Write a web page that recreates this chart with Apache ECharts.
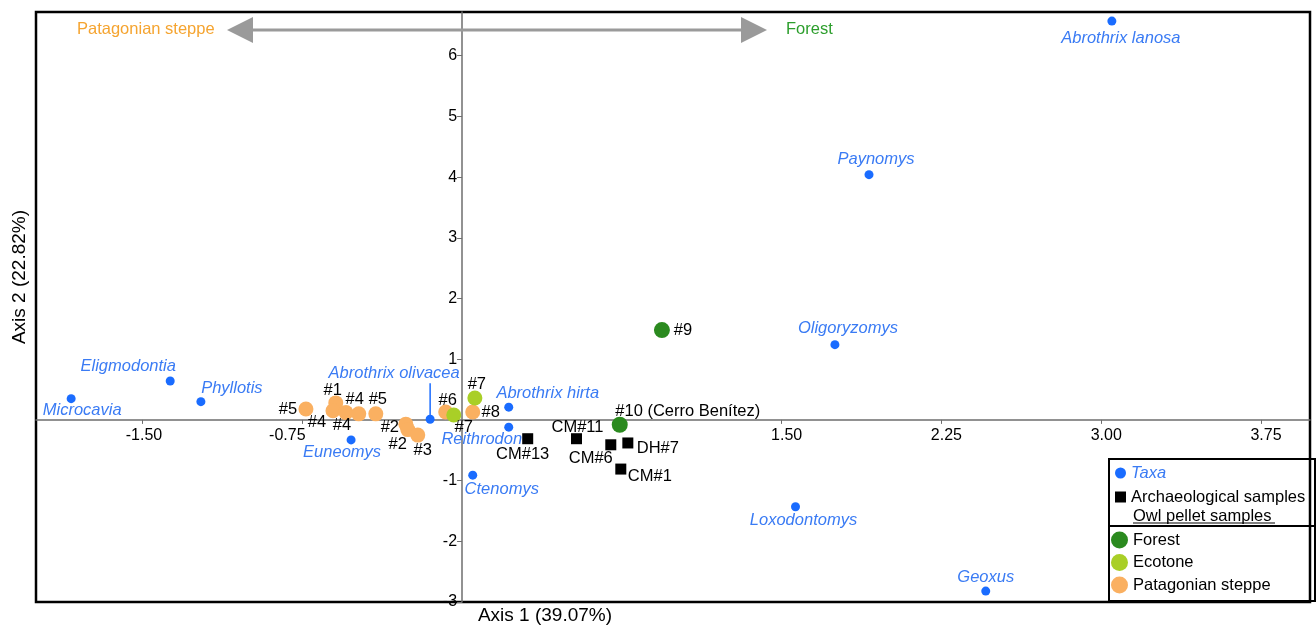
<!DOCTYPE html>
<html>
<head>
<meta charset="utf-8">
<script src="https://cdn.jsdelivr.net/npm/echarts@6/dist/echarts.min.js"></script>
<style>
  html, body { margin: 0; padding: 0; background: #fff; }
  #chart { width: 1316px; height: 629px; }
</style>
</head>
<body>
<div id="chart"></div>
<script>
// Correspondence analysis of small-mammal assemblages: taxa, archaeological
// samples and owl pellet samples on the first two axes.

// [name, axis 1, axis 2]
const taxa = [
  ['Abrothrix lanosa', 3.05, 6.57],
  ['Paynomys', 1.91, 4.04],
  ['Oligoryzomys', 1.75, 1.24],
  ['Eligmodontia', -1.37, 0.64],
  ['Microcavia', -1.835, 0.35],
  ['Phyllotis', -1.226, 0.30],
  ['Abrothrix olivacea', -0.150, 0.01],
  ['Euneomys', -0.521, -0.33],
  ['Abrothrix hirta', 0.219, 0.21],
  ['Reithrodon', 0.219, -0.12],
  ['Ctenomys', 0.050, -0.91],
  ['Loxodontomys', 1.565, -1.43],
  ['Geoxus', 2.458, -2.82]
];
const archaeological = [
  ['CM#13', 0.308, -0.31],
  ['CM#11', 0.537, -0.31],
  ['CM#6', 0.698, -0.41],
  ['DH#7', 0.778, -0.38],
  ['CM#1', 0.745, -0.81]
];
const forest = [
  ['#9', 0.938, 1.48],
  ['#10 (Cerro Benítez)', 0.740, -0.08]
];
const ecotone = [
  ['#7', 0.060, 0.36],
  ['#7', -0.039, 0.08]
];
const steppe = [
  ['#5', -0.733, 0.18],
  ['#1', -0.593, 0.28],
  ['#4', -0.606, 0.15],
  ['#4', -0.545, 0.12],
  ['#4', -0.485, 0.10],
  ['#5', -0.405, 0.10],
  ['#2', -0.264, -0.07],
  ['#2', -0.255, -0.16],
  ['#3', -0.208, -0.25],
  ['#6', -0.077, 0.13],
  ['#8', 0.050, 0.13]
];

// Axis ticks and labelled values
const xTicks = [-1.5, -0.75, 0.75, 1.5, 2.25, 3, 3.75];
const xTickLabels = [-1.5, -0.75, 1.5, 2.25, 3, 3.75];
const yTicks = [-3, -2, -1, 1, 2, 3, 4, 5, 6];
const yTickLabels = [-3, -2, -1, 1, 2, 3, 4, 5, 6];

// Label placement (pixel offset of the label centre from its marker), same order as the data
const taxaLabelOffsets = [[9, 17], [7, -15], [13, -16], [-42, -15], [11, 12], [31, -13],
  [-36, -46], [-9, 12], [39, -14], [-27, 12], [29, 14], [8, 14], [0, -14]];
const archLabelOffsets = [[-5, 16], [1, -11], [-20, 14], [30, 5], [29, 7]];
const forestLabelOffsets = [[21, 0], [68, -13]];
const ecotoneLabelOffsets = [[2, -14], [10, 12]];
const steppeLabelOffsets = [[-18, 0], [-3, -12], [-16, 12], [-4, 13], [-4, -14], [2, -14],
  [-16, 3], [-10, 15], [5, 15], [2, -12], [18, 0]];

const FONT = '"Liberation Sans", Arial, Helvetica, sans-serif';
const FS = 16.5;
const COLORS = {
  taxa: '#1a6cff',
  taxaText: '#3a7bf4',
  arch: '#000000',
  forest: '#2b8a1f',
  ecotone: '#a9cf27',
  steppe: '#fab061',
  steppeTitle: '#f5a430',
  forestTitle: '#2c9e2c',
  text: '#000'
};

const GRID = { left: 36, right: 6, top: 12, bottom: 27 };
const CHART_W = 1316, CHART_H = 629;

function points(rows, offsets, textColor, italic) {
  return rows.map((r, i) => ({
    name: r[0],
    value: [r[1], r[2]],
    label: {
      show: true,
      formatter: r[0],
      position: 'inside',
      align: 'center',
      verticalAlign: 'middle',
      offset: offsets[i],
      color: textColor,
      fontSize: FS,
      fontStyle: italic ? 'italic' : 'normal',
      fontFamily: FONT
    }
  }));
}

const chart = echarts.init(document.getElementById('chart'), null, { renderer: 'canvas' });

const tickText = { color: COLORS.text, fontSize: 16, fontFamily: FONT };

const option = {
  animation: false,
  backgroundColor: '#fff',
  textStyle: { fontFamily: FONT },
  grid: Object.assign({
    show: true, borderColor: '#000', borderWidth: 2.5, backgroundColor: 'transparent'
  }, GRID),
  xAxis: {
    type: 'value', min: -2.0, max: 3.98, position: 'bottom',
    axisLine: { onZero: false, lineStyle: { color: '#6e6e6e', width: 1.5 } },
    axisTick: { show: true, customValues: xTicks, length: 4, lineStyle: { color: '#6e6e6e' } },
    axisLabel: {
      customValues: xTickLabels, margin: 8, color: COLORS.text, fontSize: 16, fontFamily: FONT,
      // -0.75 sits left of its tick, positive values slightly right
      formatter: v => {
        const s = Number(v).toFixed(2);
        if (v === -0.75) return '{w|' + s + '}';
        if (v > 0) return '{e|' + s + '}';
        return '{c|' + s + '}';
      },
      rich: {
        w: Object.assign({ padding: [0, 30, 0, 0] }, tickText),
        e: Object.assign({ padding: [0, 0, 0, 10] }, tickText),
        c: Object.assign({ padding: [0, 0, 0, 3] }, tickText)
      }
    },
    splitLine: { show: false }
  },
  yAxis: {
    type: 'value', min: -3, max: 6.72, position: 'left',
    axisLine: { onZero: false, lineStyle: { color: '#6e6e6e', width: 1.5 } },
    axisTick: { show: true, customValues: yTicks, length: 5, lineStyle: { color: '#6e6e6e' } },
    axisLabel: {
      customValues: yTickLabels, margin: 5, color: COLORS.text, fontSize: 16, fontFamily: FONT,
      formatter: v => String(v)
    },
    splitLine: { show: false }
  },
  legend: [
    {
      orient: 'vertical', left: 1115, top: 464, padding: 0, itemGap: 6,
      itemWidth: 11, itemHeight: 11, z: 10, selectedMode: false,
      textStyle: { fontSize: FS, fontFamily: FONT, color: COLORS.text, lineHeight: 18 },
      data: [
        { name: 'Taxa', icon: 'circle', textStyle: { color: COLORS.taxaText, fontStyle: 'italic' } },
        { name: 'Archaeological samples', icon: 'rect' }
      ]
    },
    {
      orient: 'vertical', left: 1111, top: 531, padding: 0, itemGap: 4.5,
      itemWidth: 17, itemHeight: 17, z: 10, selectedMode: false,
      textStyle: { fontSize: FS, fontFamily: FONT, color: COLORS.text, lineHeight: 18 },
      data: [
        { name: 'Forest', icon: 'circle' },
        { name: 'Ecotone', icon: 'circle' },
        { name: 'Patagonian steppe', icon: 'circle' }
      ]
    }
  ],
  series: [
    {
      name: 'Taxa', type: 'scatter', symbol: 'circle', symbolSize: 9,
      itemStyle: { color: COLORS.taxa, opacity: 1 }, z: 3,
      data: points(taxa, taxaLabelOffsets, COLORS.taxaText, true)
    },
    {
      name: 'Archaeological samples', type: 'scatter', symbol: 'rect', symbolSize: 11,
      itemStyle: { color: COLORS.arch, opacity: 1 }, z: 3,
      data: points(archaeological, archLabelOffsets, COLORS.text, false)
    },
    {
      name: 'Patagonian steppe', type: 'scatter', symbol: 'circle', symbolSize: 15,
      itemStyle: { color: COLORS.steppe, opacity: 1 }, z: 2,
      data: points(steppe, steppeLabelOffsets, COLORS.text, false)
    },
    {
      name: 'Ecotone', type: 'scatter', symbol: 'circle', symbolSize: 15,
      itemStyle: { color: COLORS.ecotone, opacity: 1 }, z: 2,
      data: points(ecotone, ecotoneLabelOffsets, COLORS.text, false)
    },
    {
      name: 'Forest', type: 'scatter', symbol: 'circle', symbolSize: 16,
      itemStyle: { color: COLORS.forest, opacity: 1 }, z: 2,
      data: points(forest, forestLabelOffsets, COLORS.text, false)
    }
  ]
};
chart.setOption(option);

// Move both axes (line, ticks and labels) so that they cross at the origin
const origin = chart.convertToPixel({ gridIndex: 0 }, [0, 0]);
chart.setOption({
  xAxis: { offset: -((CHART_H - GRID.bottom) - origin[1]) },
  yAxis: { offset: -(origin[0] - GRID.left) }
});

// Leader line from the Abrothrix olivacea marker up to its label
const olivacea = taxa.find(t => t[0] === 'Abrothrix olivacea');
const oliPx = chart.convertToPixel({ gridIndex: 0 }, [olivacea[1], olivacea[2]]);
const oliOffset = taxaLabelOffsets[taxa.indexOf(olivacea)];

const ARROW_Y = 30;
chart.setOption({
  graphic: [
    // arrow between the two habitat poles
    { type: 'line', shape: { x1: 250, y1: ARROW_Y, x2: 743, y2: ARROW_Y },
      style: { stroke: '#9a9a9a', lineWidth: 3 }, z: 5 },
    { type: 'polygon', shape: { points: [[227, ARROW_Y], [253, ARROW_Y - 13], [253, ARROW_Y + 13]] },
      style: { fill: '#9a9a9a' }, z: 5 },
    { type: 'polygon', shape: { points: [[767, ARROW_Y], [741, ARROW_Y - 13], [741, ARROW_Y + 13]] },
      style: { fill: '#9a9a9a' }, z: 5 },
    { type: 'text', x: 77, y: ARROW_Y - 1, z: 5,
      style: { text: 'Patagonian steppe', fill: COLORS.steppeTitle, font: FS + 'px ' + FONT,
               align: 'left', verticalAlign: 'middle' } },
    { type: 'text', x: 786, y: ARROW_Y - 1, z: 5,
      style: { text: 'Forest', fill: COLORS.forestTitle, font: FS + 'px ' + FONT,
               align: 'left', verticalAlign: 'middle' } },
    // axis titles
    { type: 'text', x: 545, y: 616, z: 5,
      style: { text: 'Axis 1 (39.07%)', fill: COLORS.text, font: '19px ' + FONT,
               align: 'center', verticalAlign: 'middle' } },
    { type: 'text', x: 20, y: 277, rotation: Math.PI / 2, z: 5,
      style: { text: 'Axis 2 (22.82%)', fill: COLORS.text, font: '19px ' + FONT,
               align: 'center', verticalAlign: 'middle' } },
    // leader line
    { type: 'line', z: 5,
      shape: { x1: oliPx[0], y1: oliPx[1] - 2, x2: oliPx[0], y2: oliPx[1] + oliOffset[1] + 10 },
      style: { stroke: COLORS.taxa, lineWidth: 1.5 } },
    // legend frame
    { type: 'rect', z: 5,
      shape: { x: 1109, y: 459, width: 206, height: 142 },
      style: { fill: 'none', stroke: '#000', lineWidth: 2 } },
    { type: 'line', z: 5,
      shape: { x1: 1109, y1: 526, x2: 1315, y2: 526 },
      style: { stroke: '#000', lineWidth: 2 } },
    { type: 'text', x: 1133, y: 516, z: 5,
      style: { text: 'Owl pellet samples', fill: COLORS.text, font: FS + 'px ' + FONT,
               align: 'left', verticalAlign: 'middle' } },
    { type: 'line', z: 5,
      shape: { x1: 1133, y1: 523, x2: 1275, y2: 523 },
      style: { stroke: COLORS.text, lineWidth: 1 } }
  ]
});
</script>
</body>
</html>
